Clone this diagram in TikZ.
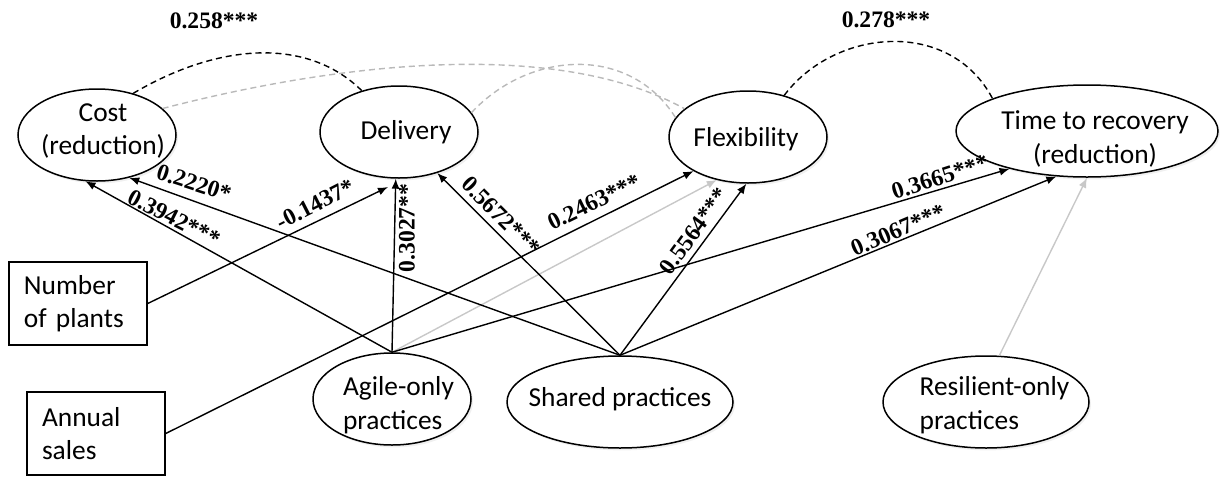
\documentclass[tikz,border=0pt]{standalone}
\usepackage{fontspec}
\setmainfont{Carlito}
\newfontfamily\labfont{Liberation Serif}
\usetikzlibrary{arrows.meta,shapes.geometric,shadows}
\definecolor{lightg}{RGB}{200,200,200}
\definecolor{dashg}{RGB}{185,185,185}
\begin{document}
\begin{tikzpicture}[x=0.5pt,y=-0.5pt,
  ell/.style={draw=black, line width=0.75pt, ellipse, inner sep=0pt, fill=white,
    drop shadow={opacity=0.12, shadow xshift=1pt, shadow yshift=-1.2pt}},
  ntext/.style={font=\fontsize{13.7}{16.75}\selectfont, inner sep=0pt, align=center},
  ltext/.style={ntext, align=left},
  boxnode/.style={draw=black, line width=0.75pt, rectangle, minimum width=69pt,
    minimum height=41.5pt, inner xsep=7.5pt, text width=54pt, align=left,
    font=\fontsize{13.7}{16.75}\selectfont},
  lab/.style={font=\labfont\bfseries\fontsize{11.8}{14}\selectfont, inner sep=0pt},
  arr/.style={-{Latex[length=5pt,width=4pt]}, line width=0.7pt, black},
  garr/.style={-{Latex[length=5pt,width=4pt]}, line width=0.7pt, color=lightg},
  bdash/.style={line width=0.7pt, dash pattern=on 3pt off 2pt, black},
  gdash/.style={line width=0.7pt, dash pattern=on 3pt off 2pt, color=dashg},
]
\useasboundingbox (0,0) rectangle (1220,477);

% ellipses
\node[ell, minimum width=79pt, minimum height=46pt] (cost) at (97,135) {};
\node[ell, minimum width=79pt, minimum height=46pt] (del) at (399,132) {};
\node[ell, minimum width=79pt, minimum height=46pt] (flex) at (748,137) {};
\node[ell, minimum width=131pt, minimum height=46pt] (ttr) at (1087,131) {};
\node[ell, minimum width=79pt, minimum height=46pt] (agile) at (392,399) {};
\node[ell, minimum width=113pt, minimum height=46pt] (shared) at (620,402) {};
\node[ell, minimum width=103pt, minimum height=46pt] (res) at (986,402) {};

% texts
\node[ntext] (costT) at (103,131) {Cost\\(reduction)};
\node[ntext] (delT) at (406,132) {Delivery};
\node[ntext] (flexT) at (746,139) {Flexibility};
\node[ntext] (ttrT) at (1095,139) {Time to recovery\\(reduction)};
\node[ltext] (agileT) at (398.5,405) {Agile-only\\practices};
\node[ntext] (sharedT) at (620,399) {Shared practices};
\node[ltext] (resT) at (994.5,405) {Resilient-only\\practices};

% boxes
\node[boxnode] (np) at (78,303.5) {Number\\of plants};
\node[boxnode] (as) at (96,433.5) {Annual\\sales};

\coordinate (tipNP) at (388,187);

% grey connectors
\draw[garr] (agile.north) -- (flex.234);
\draw[garr] (res.74) -- (ttr.270);
\draw[gdash] (cost.22) .. controls (350,60) and (560,40) .. (flex.156);
\draw[gdash] (del.15) .. controls (530,50) and (630,45) .. (flex.165);

% black connectors
\draw[arr] (agile.north) -- (cost.256);
\draw[arr] (shared.north) -- (cost.307);
\draw[arr] (np.east) -- (tipNP);
\draw[arr] (agile.north) -- (del.266);
\draw[arr] (shared.north) -- (del.313);
\draw[arr] (as.east) -- (flex.212);
\draw[arr] (shared.north) -- (flex.268);
\draw[arr] (agile.north) -- (ttr.206);
\draw[arr] (shared.north) -- (ttr.236);

\draw[bdash] (cost.49) .. controls (215,45) and (305,35) .. (del.132);
\draw[bdash] (flex.49) .. controls (835,28) and (950,18) .. (ttr.161);

% labels
\node[lab] (v258) at (214,21) {0.258***};
\node[lab] (v278) at (886,20) {0.278***};
\node[lab, rotate=-18] (v2220) at (194,183) {0.2220*};
\node[lab, rotate=-27] (v3942) at (174,218) {0.3942***};
\node[lab, rotate=27] (v1437) at (315,204) {-0.1437*};
\node[lab, rotate=90] (v3027) at (407,228) {0.3027**};
\node[lab, rotate=-45] (v5672) at (501,216) {0.5672***};
\node[lab, rotate=26] (v2463) at (594,202) {0.2463***};
\node[lab, rotate=54] (v5564) at (694,231) {0.5564***};
\node[lab, rotate=18] (v3665) at (940,177) {0.3665***};
\node[lab, rotate=23] (v3067) at (898,230) {0.3067***};
\end{tikzpicture}
\end{document}
